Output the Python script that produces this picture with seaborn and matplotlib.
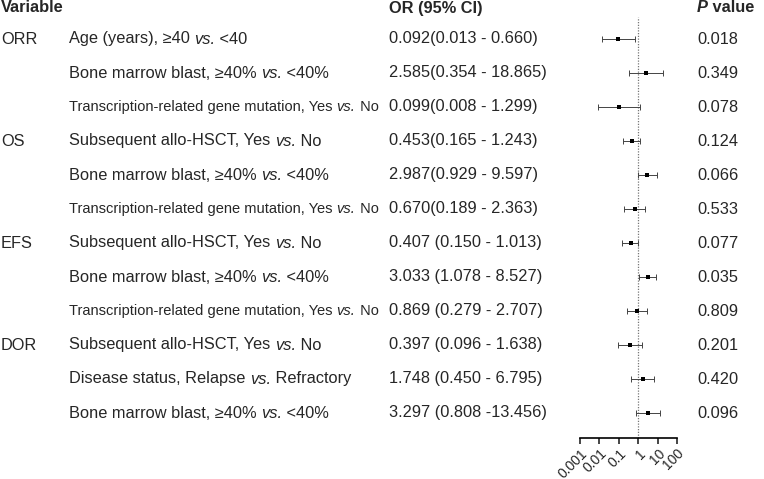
import pandas as pd
import matplotlib.pyplot as plt
import matplotlib.transforms as mtransforms
import seaborn as sns
import numpy as np

# ---------------------------------------------------------
# data
# ---------------------------------------------------------
outcomes = ["ORR", "", "", "OS", "", "", "EFS", "", "", "DOR", "", ""]
variables = [
    "Age (years), ≥40 vs. <40",
    "Bone marrow blast, ≥40% vs. <40%",
    "Transcription-related gene mutation, Yes vs. No",
    "Subsequent allo-HSCT, Yes vs. No",
    "Bone marrow blast, ≥40% vs. <40%",
    "Transcription-related gene mutation, Yes vs. No",
    "Subsequent allo-HSCT, Yes vs. No",
    "Bone marrow blast, ≥40% vs. <40%",
    "Transcription-related gene mutation, Yes vs. No",
    "Subsequent allo-HSCT, Yes vs. No",
    "Disease status, Relapse vs. Refractory",
    "Bone marrow blast, ≥40% vs. <40%",
]
odds = [0.092, 2.585, 0.099, 0.453, 2.987, 0.670, 0.407, 3.033, 0.869, 0.397, 1.748, 3.297]
ci_low = [0.013, 0.354, 0.008, 0.165, 0.929, 0.189, 0.150, 1.078, 0.279, 0.096, 0.450, 0.808]
ci_high = [0.660, 18.865, 1.299, 1.243, 9.597, 2.363, 1.013, 8.527, 2.707, 1.638, 6.795, 13.456]
or_text = [
    "0.092(0.013 - 0.660)", "2.585(0.354 - 18.865)", "0.099(0.008 - 1.299)",
    "0.453(0.165 - 1.243)", "2.987(0.929 - 9.597)", "0.670(0.189 - 2.363)",
    "0.407 (0.150 - 1.013)", "3.033 (1.078 - 8.527)", "0.869 (0.279 - 2.707)",
    "0.397 (0.096 - 1.638)", "1.748 (0.450 - 6.795)", "3.297 (0.808 -13.456)",
]
p_values = ["0.018", "0.349", "0.078", "0.124", "0.066", "0.533",
            "0.077", "0.035", "0.809", "0.201", "0.420", "0.096"]
tick_vals = [0.001, 0.01, 0.1, 1, 10, 100]
tick_labels = ["0.001", "0.01", "0.1", "1", "10", "100"]

df = pd.DataFrame({"row": np.arange(len(odds)), "odds": odds,
                   "low": ci_low, "high": ci_high})

# ---------------------------------------------------------
# style
# ---------------------------------------------------------
sns.set_style("white")
plt.rcParams["font.family"] = ["Liberation Sans", "DejaVu Sans"]

W, H = 764, 479
fig = plt.figure(figsize=(W / 100, H / 100), dpi=100)

# forest panel (pixel layout)
ax_left, ax_right, ax_top, ax_bottom = 580, 677, 17, 438
ax = fig.add_axes([ax_left / W, 1 - ax_bottom / H,
                   (ax_right - ax_left) / W, (ax_bottom - ax_top) / H])
row0, step = 39, 34
ax.set_ylim((ax_bottom - row0) / step, (ax_top - row0) / step)
ax.set_xscale("log")
ax.set_xlim(0.001, 100)

ax.axvline(1, color="#777777", linestyle=(0, (1, 1.2)), linewidth=0.9, zorder=1)
ax.errorbar(df["odds"], df["row"],
            xerr=[df["odds"] - df["low"], df["high"] - df["odds"]],
            fmt="none", ecolor="#444444", elinewidth=0.7, capsize=2, capthick=0.7,
            zorder=2)
sns.scatterplot(data=df, x="odds", y="row", marker="s", s=9, color="black",
                edgecolor="black", linewidth=0, ax=ax, zorder=3, legend=False)

ax.set_xticks(tick_vals)
ax.set_xticklabels(tick_labels, rotation=45, ha="right", rotation_mode="anchor",
                   fontsize=10)
ax.minorticks_off()
ax.tick_params(axis="x", direction="out", length=4.5, width=1.2, bottom=True, pad=1.5)
ax.set_yticks([])
ax.set_xlabel("")
ax.set_ylabel("")
for side in ["top", "right", "left"]:
    ax.spines[side].set_visible(False)
ax.spines["bottom"].set_linewidth(1.2)
ax.spines["bottom"].set_color("black")
ax.set_facecolor("none")

# ---------------------------------------------------------
# table texts
# ---------------------------------------------------------
trans = mtransforms.blended_transform_factory(fig.transFigure, ax.transData)
fs = 11.8
head_y = (8 - row0) / step
x_out, x_var, x_or, x_p = 1 / W, 69 / W, 389 / W, 697 / W
max_label_px = 309  # label column is squeezed to fit before the OR column


def chain(x, y, pieces, **kw):
    # draw text pieces one after another on the same baseline
    prev = None
    out = []
    for s, style in pieces:
        if prev is None:
            prev = ax.text(x, y, s, transform=trans, fontsize=fs, va="center",
                           ha="left", clip_on=False, **style, **kw)
        else:
            prev = ax.annotate(s, xy=(1, 0), xycoords=prev, fontsize=fs,
                               va="bottom", ha="left", annotation_clip=False,
                               **style, **kw)
        out.append(prev)
    return out


ax.text(x_out, head_y, "Variable", transform=trans, fontsize=fs, fontweight="bold",
        va="center", ha="left", clip_on=False)
ax.text(x_or, head_y, "OR (95% CI)", transform=trans, fontsize=fs, fontweight="bold",
        va="center", ha="left", clip_on=False)
chain(x_p, head_y, [("P", {"fontstyle": "italic"}), (" value", {})],
      fontweight="bold")

label_parts = []
for i in range(len(odds)):
    if outcomes[i]:
        ax.text(x_out, i, outcomes[i], transform=trans, fontsize=fs,
                va="center", ha="left", clip_on=False)
    left, right = variables[i].split(" vs. ")
    label_parts.append(chain(x_var, i, [(left + " ", {}),
                                        ("vs.", {"fontstyle": "italic"}),
                                        (" " + right, {})]))
    ax.text(x_or, i, or_text[i], transform=trans, fontsize=fs,
            va="center", ha="left", clip_on=False)
    ax.text(x_p, i, p_values[i], transform=trans, fontsize=fs,
            va="center", ha="left", clip_on=False)

# shrink labels that run too wide
fig.canvas.draw()
renderer = fig.canvas.get_renderer()
for parts in label_parts:
    x0 = parts[0].get_window_extent(renderer).x0
    x1 = parts[-1].get_window_extent(renderer).x1
    if x1 - x0 > max_label_px:
        for t in parts:
            t.set_fontsize(fs * max_label_px / (x1 - x0))

fig.savefig("out.png", dpi=100)
